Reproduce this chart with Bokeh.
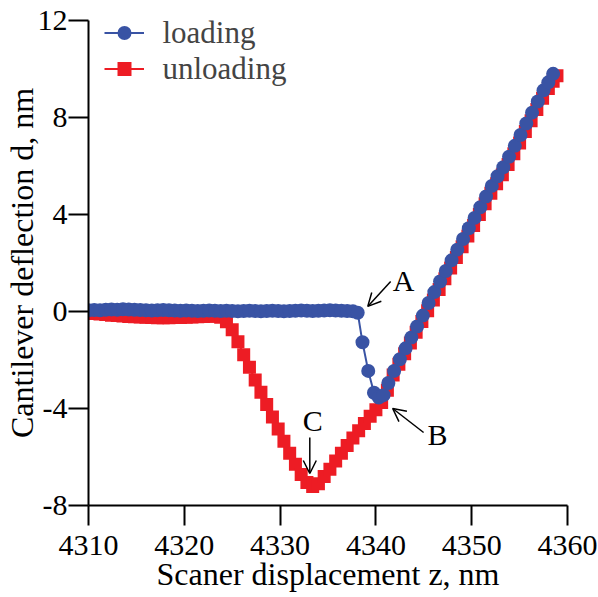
from bokeh.plotting import figure
from bokeh.models import Range1d, FixedTicker, Legend, LegendItem, Arrow, OpenHead, Label
from bokeh.embed import file_html
from bokeh.resources import INLINE

# ---- data ----
load_z = [4310.0, 4310.6, 4311.2, 4311.8, 4312.4, 4313.0, 4313.6, 4314.2, 4314.8, 4315.4,
          4316.0, 4316.6, 4317.2, 4317.8, 4318.4, 4319.0, 4319.6, 4320.2, 4320.8, 4321.4,
          4322.0, 4322.6, 4323.2, 4323.8, 4324.4, 4325.0, 4325.6, 4326.2, 4326.8, 4327.4,
          4328.0, 4328.6, 4329.2, 4329.8, 4330.4, 4331.0, 4331.6, 4332.2, 4332.8, 4333.4,
          4334.0, 4334.6, 4335.2, 4335.8, 4336.4, 4337.0, 4337.6, 4338.1,
          4338.6, 4339.2, 4339.8, 4340.3, 4340.8,
          4341.3, 4341.9, 4342.5, 4343.1, 4343.7, 4344.3, 4344.9, 4345.5, 4346.1, 4346.7,
          4347.3, 4347.9, 4348.5, 4349.1, 4349.7, 4350.3, 4350.9, 4351.5, 4352.1, 4352.7,
          4353.3, 4353.9, 4354.5, 4355.1, 4355.7, 4356.3, 4356.9, 4357.5, 4358.0, 4358.5]
load_d = [0.05, 0.06, 0.05, 0.07, 0.08, 0.07, 0.09, 0.08, 0.07, 0.06,
          0.05, 0.04, 0.05, 0.06, 0.05, 0.04, 0.03, 0.04, 0.03, 0.02,
          0.03, 0.04, 0.03, 0.02, 0.03, 0.02, 0.01, 0.02, 0.03, 0.02,
          0.01, 0.02, 0.03, 0.02, 0.01, 0.02, 0.03, 0.04, 0.03, 0.02,
          0.03, 0.04, 0.05, 0.04, 0.03, 0.02, 0.01, -0.05,
          -1.27, -2.45, -3.35, -3.55, -3.45,
          -2.95, -2.45, -1.97, -1.52, -1.07, -0.62, -0.17, 0.35, 0.80, 1.24,
          1.67, 2.11, 2.55, 2.99, 3.43, 3.86, 4.30, 4.74, 5.18, 5.58,
          5.95, 6.38, 6.83, 7.28, 7.75, 8.20, 8.66, 9.12, 9.45, 9.80]

unload_z = [4310.0, 4310.6, 4311.2, 4311.8, 4312.4, 4313.0, 4313.6, 4314.2, 4314.8, 4315.4,
            4316.0, 4316.6, 4317.2, 4317.8, 4318.4, 4319.0, 4319.6, 4320.2, 4320.8, 4321.4,
            4322.0, 4322.6, 4323.2, 4323.8, 4324.4,
            4325.0, 4325.6, 4326.2, 4326.8, 4327.4, 4328.0, 4328.6, 4329.2, 4329.8, 4330.4,
            4331.0, 4331.6, 4332.2, 4332.8, 4333.4,
            4334.0, 4334.6, 4335.2, 4335.8, 4336.4, 4337.0, 4337.6, 4338.2, 4338.8, 4339.4,
            4340.0, 4340.6,
            4341.2, 4341.8, 4342.4, 4343.0, 4343.6, 4344.2, 4344.8, 4345.4, 4346.0, 4346.6,
            4347.2, 4347.8, 4348.4, 4349.0, 4349.6, 4350.2, 4350.8, 4351.4, 4352.0, 4352.6,
            4353.2, 4353.8, 4354.4, 4355.0, 4355.6, 4356.2, 4356.8, 4357.4, 4358.0, 4358.5, 4358.9]
unload_d = [-0.05, -0.08, -0.10, -0.12, -0.15, -0.17, -0.19, -0.21, -0.22, -0.23,
            -0.24, -0.25, -0.26, -0.26, -0.26, -0.25, -0.25, -0.24, -0.23, -0.22,
            -0.21, -0.20, -0.20, -0.24, -0.42,
            -0.75, -1.25, -1.78, -2.30, -2.82, -3.33, -3.84, -4.35, -4.85, -5.35,
            -5.85, -6.30, -6.72, -7.05, -7.22,
            -7.10, -6.80, -6.50, -6.17, -5.85, -5.53, -5.22, -4.92, -4.62, -4.32,
            -4.05, -3.75,
            -3.25, -2.62, -2.18, -1.74, -1.30, -0.86, -0.41, 0.03, 0.47, 0.91,
            1.35, 1.79, 2.23, 2.67, 3.11, 3.55, 4.00, 4.44, 4.88, 5.27,
            5.64, 6.06, 6.51, 6.95, 7.42, 7.87, 8.33, 8.79, 9.20, 9.50, 9.72]

x_ticks = [4310, 4320, 4330, 4340, 4350, 4360]
y_ticks = [-8, -4, 0, 4, 8, 12]
y_tick_labels = {-8: "-8", -4: "-4", 0: "0", 4: "4", 8: "8", 12: "12"}
series_labels = ["loading", "unloading"]
x_title = "Scaner displacement z, nm"
y_title = "Cantilever deflection d, nm"

FONT = "Liberation Serif"
BLUE = "#3953A4"
RED = "#ED1C24"

p = figure(frame_width=479, frame_height=485,
           x_range=Range1d(4310, 4360), y_range=Range1d(-8, 12),
           output_backend="svg", toolbar_location=None,
           min_border_left=88, min_border_top=20, min_border_right=31, min_border_bottom=88)
p.xgrid.visible = False
p.ygrid.visible = False
p.outline_line_color = None

for ax in (p.xaxis[0], p.yaxis[0]):
    ax.axis_line_width = 2
    ax.axis_line_color = "black"
    ax.major_tick_line_width = 2
    ax.major_tick_line_color = "black"
    ax.major_tick_out = 20
    ax.major_tick_in = 0
    ax.minor_tick_out = 0
    ax.minor_tick_in = 0
    ax.major_label_text_font = FONT
    ax.major_label_text_font_size = "30px"
    ax.major_label_text_color = "black"
    ax.axis_label_text_font = FONT
    ax.axis_label_text_font_size = "32px"
    ax.axis_label_text_font_style = "normal"
    ax.axis_label_text_color = "black"
p.xaxis[0].ticker = FixedTicker(ticks=x_ticks)
p.yaxis[0].ticker = FixedTicker(ticks=y_ticks)
p.yaxis[0].major_label_overrides = y_tick_labels
p.xaxis[0].major_label_standoff = 10
p.yaxis[0].major_label_standoff = 1
p.xaxis[0].axis_label = x_title
p.yaxis[0].axis_label = y_title
p.xaxis[0].axis_label_standoff = -2
p.yaxis[0].axis_label_standoff = -5

# unloading first (drawn underneath), loading on top
r_lu = p.line(unload_z, unload_d, line_color=RED, line_width=2)
r_su = p.scatter(unload_z, unload_d, marker="square", size=13, fill_color=RED, line_color=None)
r_ll = p.line(load_z, load_d, line_color=BLUE, line_width=2)
r_sl = p.scatter(load_z, load_d, marker="circle", size=14, fill_color=BLUE, line_color=None)

legend = Legend(items=[LegendItem(label=series_labels[0], renderers=[r_ll, r_sl]),
                       LegendItem(label=series_labels[1], renderers=[r_lu, r_su])],
                location=(15.5, 418.5), orientation="vertical",
                padding=0, margin=0, spacing=0,
                label_height=35, glyph_height=35, glyph_width=40, label_standoff=19,
                label_text_font=FONT, label_text_font_size="31px",
                border_line_color=None, background_fill_alpha=0)
p.add_layout(legend, "center")

# annotation arrows and letters
def arrow(x0, y0, x1, y1):
    p.add_layout(Arrow(end=OpenHead(size=13, line_width=1.5, line_color="black"),
                       x_start=x0, y_start=y0, x_end=x1, y_end=y1,
                       line_width=1.5, line_color="black"))

arrow(4341.54, 1.24, 4339.15, 0.21)
arrow(4344.98, -4.99, 4341.75, -4.00)
arrow(4333.10, -5.20, 4333.10, -6.68)
for txt, lx, ly in [("A", 4342.9, 1.28), ("B", 4346.44, -5.07), ("C", 4333.41, -4.49)]:
    p.add_layout(Label(x=lx, y=ly, text=txt, text_font=FONT, text_font_size="30px",
                       text_align="center", text_baseline="middle", text_color="black"))

open("out.html", "w").write(file_html(p, INLINE))
